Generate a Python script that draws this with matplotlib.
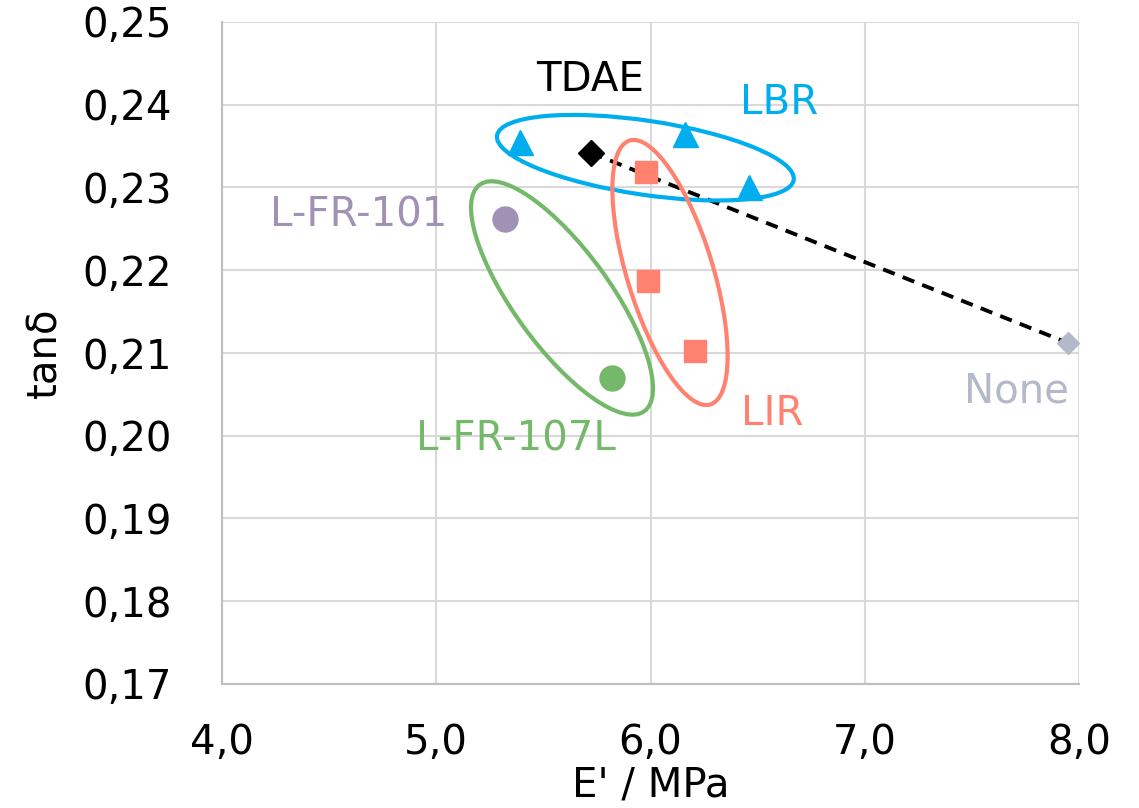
import matplotlib
matplotlib.use("Agg")
import matplotlib.pyplot as plt
from matplotlib.patches import Ellipse
from matplotlib.transforms import ScaledTranslation

plt.rcParams['font.family'] = ['DejaVu Sans']

# Data (E' / MPa, tan delta)
tdae_x, tdae_y = [5.72], [0.2342]
none_x, none_y = [7.95], [0.2112]
lbr_x = [5.39, 6.16, 6.46]
lbr_y = [0.2355, 0.2365, 0.2301]
lir_x = [5.98, 5.99, 6.21]
lir_y = [0.2319, 0.2187, 0.2102]
lfr101_x, lfr101_y = [5.32], [0.2262]
lfr107_x, lfr107_y = [5.82], [0.2070]

xticks = [4.0, 5.0, 6.0, 7.0, 8.0]
yticks = [0.17, 0.18, 0.19, 0.20, 0.21, 0.22, 0.23, 0.24, 0.25]

c_blue = '#00AEEF'
c_salmon = '#FF8270'
c_green = '#74B869'
c_purple = '#A092B4'
c_gray = '#B3B9C8'

FS = 29

fig = plt.figure(figsize=(11.39, 8.08), dpi=100)
ax = fig.add_axes([222/1139, 1-684/808, (1079-222)/1139, (684-22)/808])

ax.set_xlim(4.0, 8.0)
ax.set_ylim(0.17, 0.25)
ax.set_xticks(xticks)
ax.set_yticks(yticks)
ax.set_xticklabels([f"{v:.1f}".replace('.', ',') for v in xticks])
ax.set_yticklabels([f"{v:.2f}".replace('.', ',') for v in yticks])
ax.tick_params(axis='y', length=0, labelsize=FS, pad=36, colors='black')
ax.tick_params(axis='x', length=0, labelsize=FS, pad=28, colors='black')
ax.grid(True, color='#D9D9D9', linewidth=1.5, zorder=0)
ax.set_axisbelow(True)
for s in ['top', 'right']:
    ax.spines[s].set_visible(False)
for s in ['left', 'bottom']:
    ax.spines[s].set_color('#BFBFBF')
    ax.spines[s].set_linewidth(1.5)

ax.set_xlabel("E' / MPa", fontsize=FS, labelpad=2)
ax.set_ylabel("tanδ", fontsize=FS, labelpad=12)

# dashed trend line TDAE -> None
ax.plot([tdae_x[0], none_x[0]], [tdae_y[0], none_y[0]], color='black',
        linestyle=(0, (3.2, 2.2)), linewidth=2.8, zorder=3)

ax.plot(lbr_x, lbr_y, linestyle='none', marker='^', markersize=18, color=c_blue, zorder=4)
ax.plot(lir_x, lir_y, linestyle='none', marker='s', markersize=16, color=c_salmon, zorder=4)
ax.plot(lfr101_x, lfr101_y, linestyle='none', marker='o', markersize=18, color=c_purple, zorder=4)
ax.plot(lfr107_x, lfr107_y, linestyle='none', marker='o', markersize=18, color=c_green, zorder=4)
ax.plot(tdae_x, tdae_y, linestyle='none', marker='D', markersize=13, color='black', zorder=5)
ax.plot(none_x, none_y, linestyle='none', marker='D', markersize=11, color=c_gray, zorder=5)

# group ellipses: center in data coords, size (px) and angle in display space
def group_ellipse(cx, cy, w, h, ang, color):
    tr = ScaledTranslation(cx, cy, ax.transData)
    e = Ellipse((0, 0), w, h, angle=ang, fill=False, edgecolor=color,
                linewidth=3.0, transform=tr, zorder=3)
    ax.add_patch(e)

group_ellipse(5.976, 0.2336, 300, 74, -8.5, c_blue)
group_ellipse(5.587, 0.21665, 280, 96, -54, c_green)
group_ellipse(6.091, 0.21973, 276, 86, -73, c_salmon)

# labels
ax.text(5.72, 0.2430, "TDAE", fontsize=FS, color='black', ha='center', va='center')
ax.text(6.60, 0.2402, "LBR", fontsize=FS, color=c_blue, ha='center', va='center')
ax.text(5.05, 0.2266, "L-FR-101", fontsize=FS, color=c_purple, ha='right', va='center')
ax.text(5.37, 0.1995, "L-FR-107L", fontsize=FS, color=c_green, ha='center', va='center')
ax.text(6.57, 0.2026, "LIR", fontsize=FS, color=c_salmon, ha='center', va='center')
ax.text(7.71, 0.2054, "None", fontsize=FS, color=c_gray, ha='center', va='center')

fig.savefig("out.png", dpi=100)
